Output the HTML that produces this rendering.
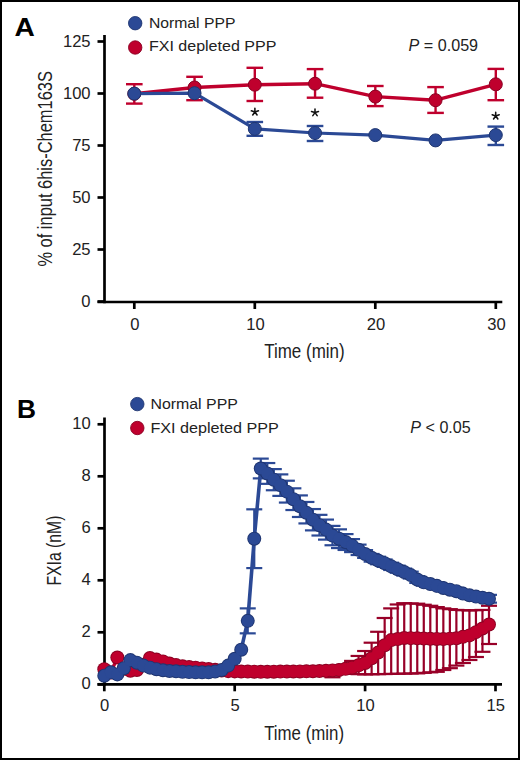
<!DOCTYPE html>
<html><head><meta charset="utf-8"><title>Figure</title>
<style>
html,body{margin:0;padding:0;background:#fff;}
body{width:520px;height:760px;overflow:hidden;font-family:"Liberation Sans", sans-serif;}
svg{display:block;}
</style></head>
<body>
<svg width="520" height="760" viewBox="0 0 520 760">
<rect x="0" y="0" width="520" height="760" fill="#fff"/>
<rect x="1" y="1" width="518" height="758" fill="none" stroke="#000" stroke-width="2"/>
<line x1="104.5" y1="35" x2="104.5" y2="303.35" stroke="#000" stroke-width="2.7"/>
<line x1="97.5" y1="302" x2="502.3" y2="302" stroke="#000" stroke-width="2.7"/>
<line x1="97.5" y1="301.5" x2="104.5" y2="301.5" stroke="#000" stroke-width="2.7"/>
<line x1="97.5" y1="249.5" x2="104.5" y2="249.5" stroke="#000" stroke-width="2.7"/>
<line x1="97.5" y1="197.5" x2="104.5" y2="197.5" stroke="#000" stroke-width="2.7"/>
<line x1="97.5" y1="145.5" x2="104.5" y2="145.5" stroke="#000" stroke-width="2.7"/>
<line x1="97.5" y1="93.5" x2="104.5" y2="93.5" stroke="#000" stroke-width="2.7"/>
<line x1="97.5" y1="41.5" x2="104.5" y2="41.5" stroke="#000" stroke-width="2.7"/>
<line x1="134.3" y1="302" x2="134.3" y2="309" stroke="#000" stroke-width="2.7"/>
<line x1="254.8" y1="302" x2="254.8" y2="309" stroke="#000" stroke-width="2.7"/>
<line x1="375.3" y1="302" x2="375.3" y2="309" stroke="#000" stroke-width="2.7"/>
<line x1="495.8" y1="302" x2="495.8" y2="309" stroke="#000" stroke-width="2.7"/>
<g>
<line x1="134.3" y1="103.6" x2="134.3" y2="84.2" stroke="#bf002d" stroke-width="2.4"/>
<line x1="126" y1="103.6" x2="142.6" y2="103.6" stroke="#bf002d" stroke-width="2.4"/>
<line x1="126" y1="84.2" x2="142.6" y2="84.2" stroke="#bf002d" stroke-width="2.4"/>
<line x1="194.55" y1="100.2" x2="194.55" y2="76.8" stroke="#bf002d" stroke-width="2.4"/>
<line x1="186.25" y1="100.2" x2="202.85" y2="100.2" stroke="#bf002d" stroke-width="2.4"/>
<line x1="186.25" y1="76.8" x2="202.85" y2="76.8" stroke="#bf002d" stroke-width="2.4"/>
<line x1="254.8" y1="101" x2="254.8" y2="67.8" stroke="#bf002d" stroke-width="2.4"/>
<line x1="246.5" y1="101" x2="263.1" y2="101" stroke="#bf002d" stroke-width="2.4"/>
<line x1="246.5" y1="67.8" x2="263.1" y2="67.8" stroke="#bf002d" stroke-width="2.4"/>
<line x1="315.05" y1="97.7" x2="315.05" y2="69.1" stroke="#bf002d" stroke-width="2.4"/>
<line x1="306.75" y1="97.7" x2="323.35" y2="97.7" stroke="#bf002d" stroke-width="2.4"/>
<line x1="306.75" y1="69.1" x2="323.35" y2="69.1" stroke="#bf002d" stroke-width="2.4"/>
<line x1="375.3" y1="106.1" x2="375.3" y2="86" stroke="#bf002d" stroke-width="2.4"/>
<line x1="367" y1="106.1" x2="383.6" y2="106.1" stroke="#bf002d" stroke-width="2.4"/>
<line x1="367" y1="86" x2="383.6" y2="86" stroke="#bf002d" stroke-width="2.4"/>
<line x1="435.55" y1="112.9" x2="435.55" y2="87.1" stroke="#bf002d" stroke-width="2.4"/>
<line x1="427.25" y1="112.9" x2="443.85" y2="112.9" stroke="#bf002d" stroke-width="2.4"/>
<line x1="427.25" y1="87.1" x2="443.85" y2="87.1" stroke="#bf002d" stroke-width="2.4"/>
<line x1="495.8" y1="100.2" x2="495.8" y2="68.9" stroke="#bf002d" stroke-width="2.4"/>
<line x1="487.5" y1="100.2" x2="504.1" y2="100.2" stroke="#bf002d" stroke-width="2.4"/>
<line x1="487.5" y1="68.9" x2="504.1" y2="68.9" stroke="#bf002d" stroke-width="2.4"/>
<polyline points="134.3,93.8 194.55,87.5 254.8,84.7 315.05,83.7 375.3,96.6 435.55,100.2 495.8,84.3" fill="none" stroke="#bf002d" stroke-width="3.4" stroke-linejoin="round"/>
<circle cx="134.3" cy="93.8" r="6.5" fill="#bf002d" stroke="#8a0022" stroke-width="1"/>
<circle cx="194.55" cy="87.5" r="6.5" fill="#bf002d" stroke="#8a0022" stroke-width="1"/>
<circle cx="254.8" cy="84.7" r="6.5" fill="#bf002d" stroke="#8a0022" stroke-width="1"/>
<circle cx="315.05" cy="83.7" r="6.5" fill="#bf002d" stroke="#8a0022" stroke-width="1"/>
<circle cx="375.3" cy="96.6" r="6.5" fill="#bf002d" stroke="#8a0022" stroke-width="1"/>
<circle cx="435.55" cy="100.2" r="6.5" fill="#bf002d" stroke="#8a0022" stroke-width="1"/>
<circle cx="495.8" cy="84.3" r="6.5" fill="#bf002d" stroke="#8a0022" stroke-width="1"/>
<line x1="254.8" y1="135.8" x2="254.8" y2="122" stroke="#2b4995" stroke-width="2.4"/>
<line x1="246.5" y1="135.8" x2="263.1" y2="135.8" stroke="#2b4995" stroke-width="2.4"/>
<line x1="246.5" y1="122" x2="263.1" y2="122" stroke="#2b4995" stroke-width="2.4"/>
<line x1="315.05" y1="141" x2="315.05" y2="126" stroke="#2b4995" stroke-width="2.4"/>
<line x1="306.75" y1="141" x2="323.35" y2="141" stroke="#2b4995" stroke-width="2.4"/>
<line x1="306.75" y1="126" x2="323.35" y2="126" stroke="#2b4995" stroke-width="2.4"/>
<line x1="495.8" y1="145" x2="495.8" y2="126.6" stroke="#2b4995" stroke-width="2.4"/>
<line x1="487.5" y1="145" x2="504.1" y2="145" stroke="#2b4995" stroke-width="2.4"/>
<line x1="487.5" y1="126.6" x2="504.1" y2="126.6" stroke="#2b4995" stroke-width="2.4"/>
<polyline points="134.3,93.6 194.55,93.2 254.8,128.9 315.05,133 375.3,135.1 435.55,140.4 495.8,135.1" fill="none" stroke="#2b4995" stroke-width="3.2" stroke-linejoin="round"/>
<circle cx="134.3" cy="93.6" r="6.5" fill="#2b4995" stroke="#1f3570" stroke-width="1"/>
<circle cx="194.55" cy="93.2" r="6.5" fill="#2b4995" stroke="#1f3570" stroke-width="1"/>
<circle cx="254.8" cy="128.9" r="6.5" fill="#2b4995" stroke="#1f3570" stroke-width="1"/>
<circle cx="315.05" cy="133" r="6.5" fill="#2b4995" stroke="#1f3570" stroke-width="1"/>
<circle cx="375.3" cy="135.1" r="6.5" fill="#2b4995" stroke="#1f3570" stroke-width="1"/>
<circle cx="435.55" cy="140.4" r="6.5" fill="#2b4995" stroke="#1f3570" stroke-width="1"/>
<circle cx="495.8" cy="135.1" r="6.5" fill="#2b4995" stroke="#1f3570" stroke-width="1"/>
</g>
<path d="M254.9 112L254.9 108.3M254.9 112L258.42 110.86M254.9 112L257.07 114.99M254.9 112L252.73 114.99M254.9 112L251.38 110.86" stroke="#111" stroke-width="1.55" stroke-linecap="round" fill="none"/>
<path d="M315 112.6L315 108.9M315 112.6L318.52 111.46M315 112.6L317.17 115.59M315 112.6L312.83 115.59M315 112.6L311.48 111.46" stroke="#111" stroke-width="1.55" stroke-linecap="round" fill="none"/>
<path d="M495.7 116L495.7 112.3M495.7 116L499.22 114.86M495.7 116L497.87 118.99M495.7 116L493.53 118.99M495.7 116L492.18 114.86" stroke="#111" stroke-width="1.55" stroke-linecap="round" fill="none"/>
<line x1="104.5" y1="417.5" x2="104.5" y2="685.65" stroke="#000" stroke-width="2.7"/>
<line x1="97.5" y1="684.3" x2="502" y2="684.3" stroke="#000" stroke-width="2.7"/>
<line x1="97.5" y1="684.3" x2="104.5" y2="684.3" stroke="#000" stroke-width="2.7"/>
<line x1="97.5" y1="632.3" x2="104.5" y2="632.3" stroke="#000" stroke-width="2.7"/>
<line x1="97.5" y1="580.3" x2="104.5" y2="580.3" stroke="#000" stroke-width="2.7"/>
<line x1="97.5" y1="528.3" x2="104.5" y2="528.3" stroke="#000" stroke-width="2.7"/>
<line x1="97.5" y1="476.3" x2="104.5" y2="476.3" stroke="#000" stroke-width="2.7"/>
<line x1="97.5" y1="424.3" x2="104.5" y2="424.3" stroke="#000" stroke-width="2.7"/>
<line x1="104.3" y1="684.3" x2="104.3" y2="691.3" stroke="#000" stroke-width="2.7"/>
<line x1="234.7" y1="684.3" x2="234.7" y2="691.3" stroke="#000" stroke-width="2.7"/>
<line x1="365.1" y1="684.3" x2="365.1" y2="691.3" stroke="#000" stroke-width="2.7"/>
<line x1="495.5" y1="684.3" x2="495.5" y2="691.3" stroke="#000" stroke-width="2.7"/>
<g>
<line x1="332.5" y1="674.94" x2="332.5" y2="677.28" stroke="#980028" stroke-width="2.2"/>
<line x1="324.5" y1="674.94" x2="340.5" y2="674.94" stroke="#980028" stroke-width="2.2"/>
<line x1="324.5" y1="677.28" x2="340.5" y2="677.28" stroke="#980028" stroke-width="2.2"/>
<line x1="339.02" y1="668.18" x2="339.02" y2="672.86" stroke="#980028" stroke-width="2.2"/>
<line x1="331.02" y1="668.18" x2="347.02" y2="668.18" stroke="#980028" stroke-width="2.2"/>
<line x1="331.02" y1="672.86" x2="347.02" y2="672.86" stroke="#980028" stroke-width="2.2"/>
<line x1="345.54" y1="664.54" x2="345.54" y2="673.38" stroke="#980028" stroke-width="2.2"/>
<line x1="337.54" y1="664.54" x2="353.54" y2="664.54" stroke="#980028" stroke-width="2.2"/>
<line x1="337.54" y1="673.38" x2="353.54" y2="673.38" stroke="#980028" stroke-width="2.2"/>
<line x1="352.06" y1="660.9" x2="352.06" y2="673.9" stroke="#980028" stroke-width="2.2"/>
<line x1="344.06" y1="660.9" x2="360.06" y2="660.9" stroke="#980028" stroke-width="2.2"/>
<line x1="344.06" y1="673.9" x2="360.06" y2="673.9" stroke="#980028" stroke-width="2.2"/>
<line x1="358.58" y1="655.96" x2="358.58" y2="674.16" stroke="#980028" stroke-width="2.2"/>
<line x1="350.58" y1="655.96" x2="366.58" y2="655.96" stroke="#980028" stroke-width="2.2"/>
<line x1="350.58" y1="674.16" x2="366.58" y2="674.16" stroke="#980028" stroke-width="2.2"/>
<line x1="365.1" y1="651.02" x2="365.1" y2="674.42" stroke="#980028" stroke-width="2.2"/>
<line x1="357.1" y1="651.02" x2="373.1" y2="651.02" stroke="#980028" stroke-width="2.2"/>
<line x1="357.1" y1="674.42" x2="373.1" y2="674.42" stroke="#980028" stroke-width="2.2"/>
<line x1="371.62" y1="642.7" x2="371.62" y2="674.29" stroke="#980028" stroke-width="2.2"/>
<line x1="363.62" y1="642.7" x2="379.62" y2="642.7" stroke="#980028" stroke-width="2.2"/>
<line x1="363.62" y1="674.29" x2="379.62" y2="674.29" stroke="#980028" stroke-width="2.2"/>
<line x1="378.14" y1="631.78" x2="378.14" y2="674.16" stroke="#980028" stroke-width="2.2"/>
<line x1="370.14" y1="631.78" x2="386.14" y2="631.78" stroke="#980028" stroke-width="2.2"/>
<line x1="370.14" y1="674.16" x2="386.14" y2="674.16" stroke="#980028" stroke-width="2.2"/>
<line x1="384.66" y1="618" x2="384.66" y2="674.03" stroke="#980028" stroke-width="2.2"/>
<line x1="376.66" y1="618" x2="392.66" y2="618" stroke="#980028" stroke-width="2.2"/>
<line x1="376.66" y1="674.03" x2="392.66" y2="674.03" stroke="#980028" stroke-width="2.2"/>
<line x1="391.18" y1="608.38" x2="391.18" y2="673.9" stroke="#980028" stroke-width="2.2"/>
<line x1="383.18" y1="608.38" x2="399.18" y2="608.38" stroke="#980028" stroke-width="2.2"/>
<line x1="383.18" y1="673.9" x2="399.18" y2="673.9" stroke="#980028" stroke-width="2.2"/>
<line x1="397.7" y1="604.48" x2="397.7" y2="673.77" stroke="#980028" stroke-width="2.2"/>
<line x1="389.7" y1="604.48" x2="405.7" y2="604.48" stroke="#980028" stroke-width="2.2"/>
<line x1="389.7" y1="673.77" x2="405.7" y2="673.77" stroke="#980028" stroke-width="2.2"/>
<line x1="404.22" y1="603.18" x2="404.22" y2="673.64" stroke="#980028" stroke-width="2.2"/>
<line x1="396.22" y1="603.18" x2="412.22" y2="603.18" stroke="#980028" stroke-width="2.2"/>
<line x1="396.22" y1="673.64" x2="412.22" y2="673.64" stroke="#980028" stroke-width="2.2"/>
<line x1="410.74" y1="603.44" x2="410.74" y2="673.51" stroke="#980028" stroke-width="2.2"/>
<line x1="402.74" y1="603.44" x2="418.74" y2="603.44" stroke="#980028" stroke-width="2.2"/>
<line x1="402.74" y1="673.51" x2="418.74" y2="673.51" stroke="#980028" stroke-width="2.2"/>
<line x1="417.26" y1="603.7" x2="417.26" y2="673.38" stroke="#980028" stroke-width="2.2"/>
<line x1="409.26" y1="603.7" x2="425.26" y2="603.7" stroke="#980028" stroke-width="2.2"/>
<line x1="409.26" y1="673.38" x2="425.26" y2="673.38" stroke="#980028" stroke-width="2.2"/>
<line x1="423.78" y1="604.74" x2="423.78" y2="672.86" stroke="#980028" stroke-width="2.2"/>
<line x1="415.78" y1="604.74" x2="431.78" y2="604.74" stroke="#980028" stroke-width="2.2"/>
<line x1="415.78" y1="672.86" x2="431.78" y2="672.86" stroke="#980028" stroke-width="2.2"/>
<line x1="430.3" y1="605.78" x2="430.3" y2="672.34" stroke="#980028" stroke-width="2.2"/>
<line x1="422.3" y1="605.78" x2="438.3" y2="605.78" stroke="#980028" stroke-width="2.2"/>
<line x1="422.3" y1="672.34" x2="438.3" y2="672.34" stroke="#980028" stroke-width="2.2"/>
<line x1="436.82" y1="607.08" x2="436.82" y2="671.82" stroke="#980028" stroke-width="2.2"/>
<line x1="428.82" y1="607.08" x2="444.82" y2="607.08" stroke="#980028" stroke-width="2.2"/>
<line x1="428.82" y1="671.82" x2="444.82" y2="671.82" stroke="#980028" stroke-width="2.2"/>
<line x1="443.34" y1="608.38" x2="443.34" y2="670" stroke="#980028" stroke-width="2.2"/>
<line x1="435.34" y1="608.38" x2="451.34" y2="608.38" stroke="#980028" stroke-width="2.2"/>
<line x1="435.34" y1="670" x2="451.34" y2="670" stroke="#980028" stroke-width="2.2"/>
<line x1="449.86" y1="609.16" x2="449.86" y2="668.18" stroke="#980028" stroke-width="2.2"/>
<line x1="441.86" y1="609.16" x2="457.86" y2="609.16" stroke="#980028" stroke-width="2.2"/>
<line x1="441.86" y1="668.18" x2="457.86" y2="668.18" stroke="#980028" stroke-width="2.2"/>
<line x1="456.38" y1="609.94" x2="456.38" y2="665.58" stroke="#980028" stroke-width="2.2"/>
<line x1="448.38" y1="609.94" x2="464.38" y2="609.94" stroke="#980028" stroke-width="2.2"/>
<line x1="448.38" y1="665.58" x2="464.38" y2="665.58" stroke="#980028" stroke-width="2.2"/>
<line x1="462.9" y1="610.2" x2="462.9" y2="662.98" stroke="#980028" stroke-width="2.2"/>
<line x1="454.9" y1="610.2" x2="470.9" y2="610.2" stroke="#980028" stroke-width="2.2"/>
<line x1="454.9" y1="662.98" x2="470.9" y2="662.98" stroke="#980028" stroke-width="2.2"/>
<line x1="469.42" y1="610.46" x2="469.42" y2="659.99" stroke="#980028" stroke-width="2.2"/>
<line x1="461.42" y1="610.46" x2="477.42" y2="610.46" stroke="#980028" stroke-width="2.2"/>
<line x1="461.42" y1="659.99" x2="477.42" y2="659.99" stroke="#980028" stroke-width="2.2"/>
<line x1="475.94" y1="610.2" x2="475.94" y2="657" stroke="#980028" stroke-width="2.2"/>
<line x1="467.94" y1="610.2" x2="483.94" y2="610.2" stroke="#980028" stroke-width="2.2"/>
<line x1="467.94" y1="657" x2="483.94" y2="657" stroke="#980028" stroke-width="2.2"/>
<line x1="482.46" y1="609.94" x2="482.46" y2="651.8" stroke="#980028" stroke-width="2.2"/>
<line x1="474.46" y1="609.94" x2="490.46" y2="609.94" stroke="#980028" stroke-width="2.2"/>
<line x1="474.46" y1="651.8" x2="490.46" y2="651.8" stroke="#980028" stroke-width="2.2"/>
<line x1="488.98" y1="605.78" x2="488.98" y2="644" stroke="#980028" stroke-width="2.2"/>
<line x1="480.98" y1="605.78" x2="496.98" y2="605.78" stroke="#980028" stroke-width="2.2"/>
<line x1="480.98" y1="644" x2="496.98" y2="644" stroke="#980028" stroke-width="2.2"/>
<polyline points="104.3,669.22 110.82,672.6 117.34,657.52 123.86,668.7 130.38,670.78 136.9,670 143.42,664.8 149.94,658.04 156.46,659.6 162.98,661.42 169.5,663.5 176.02,665.12 182.54,666.37 189.06,667.05 195.58,667.72 202.1,668.4 208.62,669.09 215.14,669.78 221.66,670.47 228.18,671.16 234.7,671.39 241.22,671.5 247.74,671.6 254.26,671.71 260.78,671.82 267.3,671.75 273.82,671.69 280.34,671.62 286.86,671.56 293.38,671.5 299.9,671.43 306.42,671.37 312.94,671.3 319.46,671.04 325.98,670.78 332.5,670.39 339.02,670 345.54,668.83 352.06,667.66 358.58,665.32 365.1,662.98 371.62,658.3 378.14,652.58 384.66,645.3 391.18,640.1 397.7,639.06 404.22,638.02 410.74,638.15 417.26,638.28 423.78,638.54 430.3,638.8 436.82,638.93 443.34,639.06 449.86,638.67 456.38,638.28 462.9,636.85 469.42,635.42 475.94,632.17 482.46,628.5 488.98,624.5" fill="none" stroke="#bf002d" stroke-width="3.4" stroke-linejoin="round"/>
<circle cx="104.3" cy="669.22" r="7.0" fill="#8a0022"/>
<circle cx="110.82" cy="672.6" r="7.0" fill="#8a0022"/>
<circle cx="117.34" cy="657.52" r="7.0" fill="#8a0022"/>
<circle cx="123.86" cy="668.7" r="7.0" fill="#8a0022"/>
<circle cx="130.38" cy="670.78" r="7.0" fill="#8a0022"/>
<circle cx="136.9" cy="670" r="7.0" fill="#8a0022"/>
<circle cx="143.42" cy="664.8" r="7.0" fill="#8a0022"/>
<circle cx="149.94" cy="658.04" r="7.0" fill="#8a0022"/>
<circle cx="156.46" cy="659.6" r="7.0" fill="#8a0022"/>
<circle cx="162.98" cy="661.42" r="7.0" fill="#8a0022"/>
<circle cx="169.5" cy="663.5" r="7.0" fill="#8a0022"/>
<circle cx="176.02" cy="665.12" r="7.0" fill="#8a0022"/>
<circle cx="182.54" cy="666.37" r="7.0" fill="#8a0022"/>
<circle cx="189.06" cy="667.05" r="7.0" fill="#8a0022"/>
<circle cx="195.58" cy="667.72" r="7.0" fill="#8a0022"/>
<circle cx="202.1" cy="668.4" r="7.0" fill="#8a0022"/>
<circle cx="208.62" cy="669.09" r="7.0" fill="#8a0022"/>
<circle cx="215.14" cy="669.78" r="7.0" fill="#8a0022"/>
<circle cx="221.66" cy="670.47" r="7.0" fill="#8a0022"/>
<circle cx="228.18" cy="671.16" r="7.0" fill="#8a0022"/>
<circle cx="234.7" cy="671.39" r="7.0" fill="#8a0022"/>
<circle cx="241.22" cy="671.5" r="7.0" fill="#8a0022"/>
<circle cx="247.74" cy="671.6" r="7.0" fill="#8a0022"/>
<circle cx="254.26" cy="671.71" r="7.0" fill="#8a0022"/>
<circle cx="260.78" cy="671.82" r="7.0" fill="#8a0022"/>
<circle cx="267.3" cy="671.75" r="7.0" fill="#8a0022"/>
<circle cx="273.82" cy="671.69" r="7.0" fill="#8a0022"/>
<circle cx="280.34" cy="671.62" r="7.0" fill="#8a0022"/>
<circle cx="286.86" cy="671.56" r="7.0" fill="#8a0022"/>
<circle cx="293.38" cy="671.5" r="7.0" fill="#8a0022"/>
<circle cx="299.9" cy="671.43" r="7.0" fill="#8a0022"/>
<circle cx="306.42" cy="671.37" r="7.0" fill="#8a0022"/>
<circle cx="312.94" cy="671.3" r="7.0" fill="#8a0022"/>
<circle cx="319.46" cy="671.04" r="7.0" fill="#8a0022"/>
<circle cx="325.98" cy="670.78" r="7.0" fill="#8a0022"/>
<circle cx="332.5" cy="670.39" r="7.0" fill="#8a0022"/>
<circle cx="339.02" cy="670" r="7.0" fill="#8a0022"/>
<circle cx="345.54" cy="668.83" r="7.0" fill="#8a0022"/>
<circle cx="352.06" cy="667.66" r="7.0" fill="#8a0022"/>
<circle cx="358.58" cy="665.32" r="7.0" fill="#8a0022"/>
<circle cx="365.1" cy="662.98" r="7.0" fill="#8a0022"/>
<circle cx="371.62" cy="658.3" r="7.0" fill="#8a0022"/>
<circle cx="378.14" cy="652.58" r="7.0" fill="#8a0022"/>
<circle cx="384.66" cy="645.3" r="7.0" fill="#8a0022"/>
<circle cx="391.18" cy="640.1" r="7.0" fill="#8a0022"/>
<circle cx="397.7" cy="639.06" r="7.0" fill="#8a0022"/>
<circle cx="404.22" cy="638.02" r="7.0" fill="#8a0022"/>
<circle cx="410.74" cy="638.15" r="7.0" fill="#8a0022"/>
<circle cx="417.26" cy="638.28" r="7.0" fill="#8a0022"/>
<circle cx="423.78" cy="638.54" r="7.0" fill="#8a0022"/>
<circle cx="430.3" cy="638.8" r="7.0" fill="#8a0022"/>
<circle cx="436.82" cy="638.93" r="7.0" fill="#8a0022"/>
<circle cx="443.34" cy="639.06" r="7.0" fill="#8a0022"/>
<circle cx="449.86" cy="638.67" r="7.0" fill="#8a0022"/>
<circle cx="456.38" cy="638.28" r="7.0" fill="#8a0022"/>
<circle cx="462.9" cy="636.85" r="7.0" fill="#8a0022"/>
<circle cx="469.42" cy="635.42" r="7.0" fill="#8a0022"/>
<circle cx="475.94" cy="632.17" r="7.0" fill="#8a0022"/>
<circle cx="482.46" cy="628.5" r="7.0" fill="#8a0022"/>
<circle cx="488.98" cy="624.5" r="7.0" fill="#8a0022"/>
<circle cx="104.3" cy="669.22" r="6.1" fill="#bf002d"/>
<circle cx="110.82" cy="672.6" r="6.1" fill="#bf002d"/>
<circle cx="117.34" cy="657.52" r="6.1" fill="#bf002d"/>
<circle cx="123.86" cy="668.7" r="6.1" fill="#bf002d"/>
<circle cx="130.38" cy="670.78" r="6.1" fill="#bf002d"/>
<circle cx="136.9" cy="670" r="6.1" fill="#bf002d"/>
<circle cx="143.42" cy="664.8" r="6.1" fill="#bf002d"/>
<circle cx="149.94" cy="658.04" r="6.1" fill="#bf002d"/>
<circle cx="156.46" cy="659.6" r="6.1" fill="#bf002d"/>
<circle cx="162.98" cy="661.42" r="6.1" fill="#bf002d"/>
<circle cx="169.5" cy="663.5" r="6.1" fill="#bf002d"/>
<circle cx="176.02" cy="665.12" r="6.1" fill="#bf002d"/>
<circle cx="182.54" cy="666.37" r="6.1" fill="#bf002d"/>
<circle cx="189.06" cy="667.05" r="6.1" fill="#bf002d"/>
<circle cx="195.58" cy="667.72" r="6.1" fill="#bf002d"/>
<circle cx="202.1" cy="668.4" r="6.1" fill="#bf002d"/>
<circle cx="208.62" cy="669.09" r="6.1" fill="#bf002d"/>
<circle cx="215.14" cy="669.78" r="6.1" fill="#bf002d"/>
<circle cx="221.66" cy="670.47" r="6.1" fill="#bf002d"/>
<circle cx="228.18" cy="671.16" r="6.1" fill="#bf002d"/>
<circle cx="234.7" cy="671.39" r="6.1" fill="#bf002d"/>
<circle cx="241.22" cy="671.5" r="6.1" fill="#bf002d"/>
<circle cx="247.74" cy="671.6" r="6.1" fill="#bf002d"/>
<circle cx="254.26" cy="671.71" r="6.1" fill="#bf002d"/>
<circle cx="260.78" cy="671.82" r="6.1" fill="#bf002d"/>
<circle cx="267.3" cy="671.75" r="6.1" fill="#bf002d"/>
<circle cx="273.82" cy="671.69" r="6.1" fill="#bf002d"/>
<circle cx="280.34" cy="671.62" r="6.1" fill="#bf002d"/>
<circle cx="286.86" cy="671.56" r="6.1" fill="#bf002d"/>
<circle cx="293.38" cy="671.5" r="6.1" fill="#bf002d"/>
<circle cx="299.9" cy="671.43" r="6.1" fill="#bf002d"/>
<circle cx="306.42" cy="671.37" r="6.1" fill="#bf002d"/>
<circle cx="312.94" cy="671.3" r="6.1" fill="#bf002d"/>
<circle cx="319.46" cy="671.04" r="6.1" fill="#bf002d"/>
<circle cx="325.98" cy="670.78" r="6.1" fill="#bf002d"/>
<circle cx="332.5" cy="670.39" r="6.1" fill="#bf002d"/>
<circle cx="339.02" cy="670" r="6.1" fill="#bf002d"/>
<circle cx="345.54" cy="668.83" r="6.1" fill="#bf002d"/>
<circle cx="352.06" cy="667.66" r="6.1" fill="#bf002d"/>
<circle cx="358.58" cy="665.32" r="6.1" fill="#bf002d"/>
<circle cx="365.1" cy="662.98" r="6.1" fill="#bf002d"/>
<circle cx="371.62" cy="658.3" r="6.1" fill="#bf002d"/>
<circle cx="378.14" cy="652.58" r="6.1" fill="#bf002d"/>
<circle cx="384.66" cy="645.3" r="6.1" fill="#bf002d"/>
<circle cx="391.18" cy="640.1" r="6.1" fill="#bf002d"/>
<circle cx="397.7" cy="639.06" r="6.1" fill="#bf002d"/>
<circle cx="404.22" cy="638.02" r="6.1" fill="#bf002d"/>
<circle cx="410.74" cy="638.15" r="6.1" fill="#bf002d"/>
<circle cx="417.26" cy="638.28" r="6.1" fill="#bf002d"/>
<circle cx="423.78" cy="638.54" r="6.1" fill="#bf002d"/>
<circle cx="430.3" cy="638.8" r="6.1" fill="#bf002d"/>
<circle cx="436.82" cy="638.93" r="6.1" fill="#bf002d"/>
<circle cx="443.34" cy="639.06" r="6.1" fill="#bf002d"/>
<circle cx="449.86" cy="638.67" r="6.1" fill="#bf002d"/>
<circle cx="456.38" cy="638.28" r="6.1" fill="#bf002d"/>
<circle cx="462.9" cy="636.85" r="6.1" fill="#bf002d"/>
<circle cx="469.42" cy="635.42" r="6.1" fill="#bf002d"/>
<circle cx="475.94" cy="632.17" r="6.1" fill="#bf002d"/>
<circle cx="482.46" cy="628.5" r="6.1" fill="#bf002d"/>
<circle cx="488.98" cy="624.5" r="6.1" fill="#bf002d"/>
<line x1="247.74" y1="608.38" x2="247.74" y2="633.34" stroke="#2b4995" stroke-width="2.2"/>
<line x1="239.74" y1="608.38" x2="255.74" y2="608.38" stroke="#2b4995" stroke-width="2.2"/>
<line x1="239.74" y1="633.34" x2="255.74" y2="633.34" stroke="#2b4995" stroke-width="2.2"/>
<line x1="254.26" y1="509.32" x2="254.26" y2="568.08" stroke="#2b4995" stroke-width="2.2"/>
<line x1="246.26" y1="509.32" x2="262.26" y2="509.32" stroke="#2b4995" stroke-width="2.2"/>
<line x1="246.26" y1="568.08" x2="262.26" y2="568.08" stroke="#2b4995" stroke-width="2.2"/>
<line x1="260.78" y1="458.62" x2="260.78" y2="478.38" stroke="#2b4995" stroke-width="2.2"/>
<line x1="252.78" y1="458.62" x2="268.78" y2="458.62" stroke="#2b4995" stroke-width="2.2"/>
<line x1="252.78" y1="478.38" x2="268.78" y2="478.38" stroke="#2b4995" stroke-width="2.2"/>
<line x1="267.3" y1="463.04" x2="267.3" y2="483.84" stroke="#2b4995" stroke-width="2.2"/>
<line x1="259.3" y1="463.04" x2="275.3" y2="463.04" stroke="#2b4995" stroke-width="2.2"/>
<line x1="259.3" y1="483.84" x2="275.3" y2="483.84" stroke="#2b4995" stroke-width="2.2"/>
<line x1="273.82" y1="469.11" x2="273.82" y2="490.25" stroke="#2b4995" stroke-width="2.2"/>
<line x1="265.82" y1="469.11" x2="281.82" y2="469.11" stroke="#2b4995" stroke-width="2.2"/>
<line x1="265.82" y1="490.25" x2="281.82" y2="490.25" stroke="#2b4995" stroke-width="2.2"/>
<line x1="280.34" y1="474.39" x2="280.34" y2="495.89" stroke="#2b4995" stroke-width="2.2"/>
<line x1="272.34" y1="474.39" x2="288.34" y2="474.39" stroke="#2b4995" stroke-width="2.2"/>
<line x1="272.34" y1="495.89" x2="288.34" y2="495.89" stroke="#2b4995" stroke-width="2.2"/>
<line x1="286.86" y1="480.72" x2="286.86" y2="502.56" stroke="#2b4995" stroke-width="2.2"/>
<line x1="278.86" y1="480.72" x2="294.86" y2="480.72" stroke="#2b4995" stroke-width="2.2"/>
<line x1="278.86" y1="502.56" x2="294.86" y2="502.56" stroke="#2b4995" stroke-width="2.2"/>
<line x1="293.38" y1="488.32" x2="293.38" y2="510.03" stroke="#2b4995" stroke-width="2.2"/>
<line x1="285.38" y1="488.32" x2="301.38" y2="488.32" stroke="#2b4995" stroke-width="2.2"/>
<line x1="285.38" y1="510.03" x2="301.38" y2="510.03" stroke="#2b4995" stroke-width="2.2"/>
<line x1="299.9" y1="495.41" x2="299.9" y2="516.99" stroke="#2b4995" stroke-width="2.2"/>
<line x1="291.9" y1="495.41" x2="307.9" y2="495.41" stroke="#2b4995" stroke-width="2.2"/>
<line x1="291.9" y1="516.99" x2="307.9" y2="516.99" stroke="#2b4995" stroke-width="2.2"/>
<line x1="306.42" y1="501.97" x2="306.42" y2="523.42" stroke="#2b4995" stroke-width="2.2"/>
<line x1="298.42" y1="501.97" x2="314.42" y2="501.97" stroke="#2b4995" stroke-width="2.2"/>
<line x1="298.42" y1="523.42" x2="314.42" y2="523.42" stroke="#2b4995" stroke-width="2.2"/>
<line x1="312.94" y1="509.06" x2="312.94" y2="530.38" stroke="#2b4995" stroke-width="2.2"/>
<line x1="304.94" y1="509.06" x2="320.94" y2="509.06" stroke="#2b4995" stroke-width="2.2"/>
<line x1="304.94" y1="530.38" x2="320.94" y2="530.38" stroke="#2b4995" stroke-width="2.2"/>
<line x1="319.46" y1="514.84" x2="319.46" y2="535.51" stroke="#2b4995" stroke-width="2.2"/>
<line x1="311.46" y1="514.84" x2="327.46" y2="514.84" stroke="#2b4995" stroke-width="2.2"/>
<line x1="311.46" y1="535.51" x2="327.46" y2="535.51" stroke="#2b4995" stroke-width="2.2"/>
<line x1="325.98" y1="519.59" x2="325.98" y2="539.61" stroke="#2b4995" stroke-width="2.2"/>
<line x1="317.98" y1="519.59" x2="333.98" y2="519.59" stroke="#2b4995" stroke-width="2.2"/>
<line x1="317.98" y1="539.61" x2="333.98" y2="539.61" stroke="#2b4995" stroke-width="2.2"/>
<line x1="332.5" y1="525.89" x2="332.5" y2="545.26" stroke="#2b4995" stroke-width="2.2"/>
<line x1="324.5" y1="525.89" x2="340.5" y2="525.89" stroke="#2b4995" stroke-width="2.2"/>
<line x1="324.5" y1="545.26" x2="340.5" y2="545.26" stroke="#2b4995" stroke-width="2.2"/>
<line x1="339.02" y1="529.34" x2="339.02" y2="548.06" stroke="#2b4995" stroke-width="2.2"/>
<line x1="331.02" y1="529.34" x2="347.02" y2="529.34" stroke="#2b4995" stroke-width="2.2"/>
<line x1="331.02" y1="548.06" x2="347.02" y2="548.06" stroke="#2b4995" stroke-width="2.2"/>
<line x1="345.54" y1="534.1" x2="345.54" y2="549.96" stroke="#2b4995" stroke-width="2.2"/>
<line x1="337.54" y1="534.1" x2="353.54" y2="534.1" stroke="#2b4995" stroke-width="2.2"/>
<line x1="337.54" y1="549.96" x2="353.54" y2="549.96" stroke="#2b4995" stroke-width="2.2"/>
<line x1="352.06" y1="539.1" x2="352.06" y2="552.1" stroke="#2b4995" stroke-width="2.2"/>
<line x1="344.06" y1="539.1" x2="360.06" y2="539.1" stroke="#2b4995" stroke-width="2.2"/>
<line x1="344.06" y1="552.1" x2="360.06" y2="552.1" stroke="#2b4995" stroke-width="2.2"/>
<line x1="358.58" y1="544.62" x2="358.58" y2="555.02" stroke="#2b4995" stroke-width="2.2"/>
<line x1="350.58" y1="544.62" x2="366.58" y2="544.62" stroke="#2b4995" stroke-width="2.2"/>
<line x1="350.58" y1="555.02" x2="366.58" y2="555.02" stroke="#2b4995" stroke-width="2.2"/>
<line x1="365.1" y1="550.09" x2="365.1" y2="557.89" stroke="#2b4995" stroke-width="2.2"/>
<line x1="357.1" y1="550.09" x2="373.1" y2="550.09" stroke="#2b4995" stroke-width="2.2"/>
<line x1="357.1" y1="557.89" x2="373.1" y2="557.89" stroke="#2b4995" stroke-width="2.2"/>
<line x1="371.62" y1="553.97" x2="371.62" y2="561.64" stroke="#2b4995" stroke-width="2.2"/>
<line x1="363.62" y1="553.97" x2="379.62" y2="553.97" stroke="#2b4995" stroke-width="2.2"/>
<line x1="363.62" y1="561.64" x2="379.62" y2="561.64" stroke="#2b4995" stroke-width="2.2"/>
<line x1="378.14" y1="556.73" x2="378.14" y2="564.27" stroke="#2b4995" stroke-width="2.2"/>
<line x1="370.14" y1="556.73" x2="386.14" y2="556.73" stroke="#2b4995" stroke-width="2.2"/>
<line x1="370.14" y1="564.27" x2="386.14" y2="564.27" stroke="#2b4995" stroke-width="2.2"/>
<line x1="384.66" y1="559.48" x2="384.66" y2="566.89" stroke="#2b4995" stroke-width="2.2"/>
<line x1="376.66" y1="559.48" x2="392.66" y2="559.48" stroke="#2b4995" stroke-width="2.2"/>
<line x1="376.66" y1="566.89" x2="392.66" y2="566.89" stroke="#2b4995" stroke-width="2.2"/>
<line x1="391.18" y1="562.7" x2="391.18" y2="569.98" stroke="#2b4995" stroke-width="2.2"/>
<line x1="383.18" y1="562.7" x2="399.18" y2="562.7" stroke="#2b4995" stroke-width="2.2"/>
<line x1="383.18" y1="569.98" x2="399.18" y2="569.98" stroke="#2b4995" stroke-width="2.2"/>
<line x1="397.7" y1="565.63" x2="397.7" y2="572.78" stroke="#2b4995" stroke-width="2.2"/>
<line x1="389.7" y1="565.63" x2="405.7" y2="565.63" stroke="#2b4995" stroke-width="2.2"/>
<line x1="389.7" y1="572.78" x2="405.7" y2="572.78" stroke="#2b4995" stroke-width="2.2"/>
<line x1="404.22" y1="568.55" x2="404.22" y2="575.57" stroke="#2b4995" stroke-width="2.2"/>
<line x1="396.22" y1="568.55" x2="412.22" y2="568.55" stroke="#2b4995" stroke-width="2.2"/>
<line x1="396.22" y1="575.57" x2="412.22" y2="575.57" stroke="#2b4995" stroke-width="2.2"/>
<line x1="410.74" y1="571.67" x2="410.74" y2="578.56" stroke="#2b4995" stroke-width="2.2"/>
<line x1="402.74" y1="571.67" x2="418.74" y2="571.67" stroke="#2b4995" stroke-width="2.2"/>
<line x1="402.74" y1="578.56" x2="418.74" y2="578.56" stroke="#2b4995" stroke-width="2.2"/>
<line x1="417.26" y1="576.18" x2="417.26" y2="582.94" stroke="#2b4995" stroke-width="2.2"/>
<line x1="409.26" y1="576.18" x2="425.26" y2="576.18" stroke="#2b4995" stroke-width="2.2"/>
<line x1="409.26" y1="582.94" x2="425.26" y2="582.94" stroke="#2b4995" stroke-width="2.2"/>
<line x1="423.78" y1="578.97" x2="423.78" y2="585.73" stroke="#2b4995" stroke-width="2.2"/>
<line x1="415.78" y1="578.97" x2="431.78" y2="578.97" stroke="#2b4995" stroke-width="2.2"/>
<line x1="415.78" y1="585.73" x2="431.78" y2="585.73" stroke="#2b4995" stroke-width="2.2"/>
<line x1="430.3" y1="580.65" x2="430.3" y2="587.41" stroke="#2b4995" stroke-width="2.2"/>
<line x1="422.3" y1="580.65" x2="438.3" y2="580.65" stroke="#2b4995" stroke-width="2.2"/>
<line x1="422.3" y1="587.41" x2="438.3" y2="587.41" stroke="#2b4995" stroke-width="2.2"/>
<line x1="436.82" y1="582.47" x2="436.82" y2="589.23" stroke="#2b4995" stroke-width="2.2"/>
<line x1="428.82" y1="582.47" x2="444.82" y2="582.47" stroke="#2b4995" stroke-width="2.2"/>
<line x1="428.82" y1="589.23" x2="444.82" y2="589.23" stroke="#2b4995" stroke-width="2.2"/>
<line x1="443.34" y1="584.63" x2="443.34" y2="591.39" stroke="#2b4995" stroke-width="2.2"/>
<line x1="435.34" y1="584.63" x2="451.34" y2="584.63" stroke="#2b4995" stroke-width="2.2"/>
<line x1="435.34" y1="591.39" x2="451.34" y2="591.39" stroke="#2b4995" stroke-width="2.2"/>
<line x1="449.86" y1="586.33" x2="449.86" y2="593.09" stroke="#2b4995" stroke-width="2.2"/>
<line x1="441.86" y1="586.33" x2="457.86" y2="586.33" stroke="#2b4995" stroke-width="2.2"/>
<line x1="441.86" y1="593.09" x2="457.86" y2="593.09" stroke="#2b4995" stroke-width="2.2"/>
<line x1="456.38" y1="587.84" x2="456.38" y2="594.6" stroke="#2b4995" stroke-width="2.2"/>
<line x1="448.38" y1="587.84" x2="464.38" y2="587.84" stroke="#2b4995" stroke-width="2.2"/>
<line x1="448.38" y1="594.6" x2="464.38" y2="594.6" stroke="#2b4995" stroke-width="2.2"/>
<line x1="462.9" y1="590.2" x2="462.9" y2="596.96" stroke="#2b4995" stroke-width="2.2"/>
<line x1="454.9" y1="590.2" x2="470.9" y2="590.2" stroke="#2b4995" stroke-width="2.2"/>
<line x1="454.9" y1="596.96" x2="470.9" y2="596.96" stroke="#2b4995" stroke-width="2.2"/>
<line x1="469.42" y1="591.87" x2="469.42" y2="598.63" stroke="#2b4995" stroke-width="2.2"/>
<line x1="461.42" y1="591.87" x2="477.42" y2="591.87" stroke="#2b4995" stroke-width="2.2"/>
<line x1="461.42" y1="598.63" x2="477.42" y2="598.63" stroke="#2b4995" stroke-width="2.2"/>
<line x1="475.94" y1="593.22" x2="475.94" y2="599.98" stroke="#2b4995" stroke-width="2.2"/>
<line x1="467.94" y1="593.22" x2="483.94" y2="593.22" stroke="#2b4995" stroke-width="2.2"/>
<line x1="467.94" y1="599.98" x2="483.94" y2="599.98" stroke="#2b4995" stroke-width="2.2"/>
<line x1="482.46" y1="594.42" x2="482.46" y2="601.18" stroke="#2b4995" stroke-width="2.2"/>
<line x1="474.46" y1="594.42" x2="490.46" y2="594.42" stroke="#2b4995" stroke-width="2.2"/>
<line x1="474.46" y1="601.18" x2="490.46" y2="601.18" stroke="#2b4995" stroke-width="2.2"/>
<line x1="488.98" y1="594.86" x2="488.98" y2="602.66" stroke="#2b4995" stroke-width="2.2"/>
<line x1="480.98" y1="594.86" x2="496.98" y2="594.86" stroke="#2b4995" stroke-width="2.2"/>
<line x1="480.98" y1="602.66" x2="496.98" y2="602.66" stroke="#2b4995" stroke-width="2.2"/>
<polyline points="104.3,675.72 110.82,672.34 117.34,674.42 123.86,668.18 130.38,660.12 136.9,662.72 143.42,665.58 149.94,667.66 156.46,669.22 162.98,670.26 169.5,671.04 176.02,671.3 182.54,671.82 189.06,672.08 195.58,672.34 202.1,672.34 208.62,672.34 215.14,671.56 221.66,670 228.18,665.58 234.7,658.82 241.22,649.72 247.74,620.86 254.26,538.7 260.78,468.5 267.3,473.44 273.82,479.68 280.34,485.14 286.86,491.64 293.38,499.18 299.9,506.2 306.42,512.7 312.94,519.72 319.46,525.18 325.98,529.6 332.5,535.58 339.02,538.7 345.54,542.03 352.06,545.6 358.58,549.82 365.1,553.99 371.62,557.81 378.14,560.5 384.66,563.18 391.18,566.34 397.7,569.2 404.22,572.06 410.74,575.11 417.26,579.56 423.78,582.35 430.3,584.03 436.82,585.85 443.34,588.01 449.86,589.71 456.38,591.22 462.9,593.58 469.42,595.25 475.94,596.6 482.46,597.8 488.98,598.76" fill="none" stroke="#2b4995" stroke-width="3.6" stroke-linejoin="round"/>
<circle cx="104.3" cy="675.72" r="7.0" fill="#1f3570"/>
<circle cx="110.82" cy="672.34" r="7.0" fill="#1f3570"/>
<circle cx="117.34" cy="674.42" r="7.0" fill="#1f3570"/>
<circle cx="123.86" cy="668.18" r="7.0" fill="#1f3570"/>
<circle cx="130.38" cy="660.12" r="7.0" fill="#1f3570"/>
<circle cx="136.9" cy="662.72" r="7.0" fill="#1f3570"/>
<circle cx="143.42" cy="665.58" r="7.0" fill="#1f3570"/>
<circle cx="149.94" cy="667.66" r="7.0" fill="#1f3570"/>
<circle cx="156.46" cy="669.22" r="7.0" fill="#1f3570"/>
<circle cx="162.98" cy="670.26" r="7.0" fill="#1f3570"/>
<circle cx="169.5" cy="671.04" r="7.0" fill="#1f3570"/>
<circle cx="176.02" cy="671.3" r="7.0" fill="#1f3570"/>
<circle cx="182.54" cy="671.82" r="7.0" fill="#1f3570"/>
<circle cx="189.06" cy="672.08" r="7.0" fill="#1f3570"/>
<circle cx="195.58" cy="672.34" r="7.0" fill="#1f3570"/>
<circle cx="202.1" cy="672.34" r="7.0" fill="#1f3570"/>
<circle cx="208.62" cy="672.34" r="7.0" fill="#1f3570"/>
<circle cx="215.14" cy="671.56" r="7.0" fill="#1f3570"/>
<circle cx="221.66" cy="670" r="7.0" fill="#1f3570"/>
<circle cx="228.18" cy="665.58" r="7.0" fill="#1f3570"/>
<circle cx="234.7" cy="658.82" r="7.0" fill="#1f3570"/>
<circle cx="241.22" cy="649.72" r="7.0" fill="#1f3570"/>
<circle cx="247.74" cy="620.86" r="7.0" fill="#1f3570"/>
<circle cx="254.26" cy="538.7" r="7.0" fill="#1f3570"/>
<circle cx="260.78" cy="468.5" r="7.0" fill="#1f3570"/>
<circle cx="267.3" cy="473.44" r="7.0" fill="#1f3570"/>
<circle cx="273.82" cy="479.68" r="7.0" fill="#1f3570"/>
<circle cx="280.34" cy="485.14" r="7.0" fill="#1f3570"/>
<circle cx="286.86" cy="491.64" r="7.0" fill="#1f3570"/>
<circle cx="293.38" cy="499.18" r="7.0" fill="#1f3570"/>
<circle cx="299.9" cy="506.2" r="7.0" fill="#1f3570"/>
<circle cx="306.42" cy="512.7" r="7.0" fill="#1f3570"/>
<circle cx="312.94" cy="519.72" r="7.0" fill="#1f3570"/>
<circle cx="319.46" cy="525.18" r="7.0" fill="#1f3570"/>
<circle cx="325.98" cy="529.6" r="7.0" fill="#1f3570"/>
<circle cx="332.5" cy="535.58" r="7.0" fill="#1f3570"/>
<circle cx="339.02" cy="538.7" r="7.0" fill="#1f3570"/>
<circle cx="345.54" cy="542.03" r="7.0" fill="#1f3570"/>
<circle cx="352.06" cy="545.6" r="7.0" fill="#1f3570"/>
<circle cx="358.58" cy="549.82" r="7.0" fill="#1f3570"/>
<circle cx="365.1" cy="553.99" r="7.0" fill="#1f3570"/>
<circle cx="371.62" cy="557.81" r="7.0" fill="#1f3570"/>
<circle cx="378.14" cy="560.5" r="7.0" fill="#1f3570"/>
<circle cx="384.66" cy="563.18" r="7.0" fill="#1f3570"/>
<circle cx="391.18" cy="566.34" r="7.0" fill="#1f3570"/>
<circle cx="397.7" cy="569.2" r="7.0" fill="#1f3570"/>
<circle cx="404.22" cy="572.06" r="7.0" fill="#1f3570"/>
<circle cx="410.74" cy="575.11" r="7.0" fill="#1f3570"/>
<circle cx="417.26" cy="579.56" r="7.0" fill="#1f3570"/>
<circle cx="423.78" cy="582.35" r="7.0" fill="#1f3570"/>
<circle cx="430.3" cy="584.03" r="7.0" fill="#1f3570"/>
<circle cx="436.82" cy="585.85" r="7.0" fill="#1f3570"/>
<circle cx="443.34" cy="588.01" r="7.0" fill="#1f3570"/>
<circle cx="449.86" cy="589.71" r="7.0" fill="#1f3570"/>
<circle cx="456.38" cy="591.22" r="7.0" fill="#1f3570"/>
<circle cx="462.9" cy="593.58" r="7.0" fill="#1f3570"/>
<circle cx="469.42" cy="595.25" r="7.0" fill="#1f3570"/>
<circle cx="475.94" cy="596.6" r="7.0" fill="#1f3570"/>
<circle cx="482.46" cy="597.8" r="7.0" fill="#1f3570"/>
<circle cx="488.98" cy="598.76" r="7.0" fill="#1f3570"/>
<circle cx="104.3" cy="675.72" r="6.1" fill="#2b4995"/>
<circle cx="110.82" cy="672.34" r="6.1" fill="#2b4995"/>
<circle cx="117.34" cy="674.42" r="6.1" fill="#2b4995"/>
<circle cx="123.86" cy="668.18" r="6.1" fill="#2b4995"/>
<circle cx="130.38" cy="660.12" r="6.1" fill="#2b4995"/>
<circle cx="136.9" cy="662.72" r="6.1" fill="#2b4995"/>
<circle cx="143.42" cy="665.58" r="6.1" fill="#2b4995"/>
<circle cx="149.94" cy="667.66" r="6.1" fill="#2b4995"/>
<circle cx="156.46" cy="669.22" r="6.1" fill="#2b4995"/>
<circle cx="162.98" cy="670.26" r="6.1" fill="#2b4995"/>
<circle cx="169.5" cy="671.04" r="6.1" fill="#2b4995"/>
<circle cx="176.02" cy="671.3" r="6.1" fill="#2b4995"/>
<circle cx="182.54" cy="671.82" r="6.1" fill="#2b4995"/>
<circle cx="189.06" cy="672.08" r="6.1" fill="#2b4995"/>
<circle cx="195.58" cy="672.34" r="6.1" fill="#2b4995"/>
<circle cx="202.1" cy="672.34" r="6.1" fill="#2b4995"/>
<circle cx="208.62" cy="672.34" r="6.1" fill="#2b4995"/>
<circle cx="215.14" cy="671.56" r="6.1" fill="#2b4995"/>
<circle cx="221.66" cy="670" r="6.1" fill="#2b4995"/>
<circle cx="228.18" cy="665.58" r="6.1" fill="#2b4995"/>
<circle cx="234.7" cy="658.82" r="6.1" fill="#2b4995"/>
<circle cx="241.22" cy="649.72" r="6.1" fill="#2b4995"/>
<circle cx="247.74" cy="620.86" r="6.1" fill="#2b4995"/>
<circle cx="254.26" cy="538.7" r="6.1" fill="#2b4995"/>
<circle cx="260.78" cy="468.5" r="6.1" fill="#2b4995"/>
<circle cx="267.3" cy="473.44" r="6.1" fill="#2b4995"/>
<circle cx="273.82" cy="479.68" r="6.1" fill="#2b4995"/>
<circle cx="280.34" cy="485.14" r="6.1" fill="#2b4995"/>
<circle cx="286.86" cy="491.64" r="6.1" fill="#2b4995"/>
<circle cx="293.38" cy="499.18" r="6.1" fill="#2b4995"/>
<circle cx="299.9" cy="506.2" r="6.1" fill="#2b4995"/>
<circle cx="306.42" cy="512.7" r="6.1" fill="#2b4995"/>
<circle cx="312.94" cy="519.72" r="6.1" fill="#2b4995"/>
<circle cx="319.46" cy="525.18" r="6.1" fill="#2b4995"/>
<circle cx="325.98" cy="529.6" r="6.1" fill="#2b4995"/>
<circle cx="332.5" cy="535.58" r="6.1" fill="#2b4995"/>
<circle cx="339.02" cy="538.7" r="6.1" fill="#2b4995"/>
<circle cx="345.54" cy="542.03" r="6.1" fill="#2b4995"/>
<circle cx="352.06" cy="545.6" r="6.1" fill="#2b4995"/>
<circle cx="358.58" cy="549.82" r="6.1" fill="#2b4995"/>
<circle cx="365.1" cy="553.99" r="6.1" fill="#2b4995"/>
<circle cx="371.62" cy="557.81" r="6.1" fill="#2b4995"/>
<circle cx="378.14" cy="560.5" r="6.1" fill="#2b4995"/>
<circle cx="384.66" cy="563.18" r="6.1" fill="#2b4995"/>
<circle cx="391.18" cy="566.34" r="6.1" fill="#2b4995"/>
<circle cx="397.7" cy="569.2" r="6.1" fill="#2b4995"/>
<circle cx="404.22" cy="572.06" r="6.1" fill="#2b4995"/>
<circle cx="410.74" cy="575.11" r="6.1" fill="#2b4995"/>
<circle cx="417.26" cy="579.56" r="6.1" fill="#2b4995"/>
<circle cx="423.78" cy="582.35" r="6.1" fill="#2b4995"/>
<circle cx="430.3" cy="584.03" r="6.1" fill="#2b4995"/>
<circle cx="436.82" cy="585.85" r="6.1" fill="#2b4995"/>
<circle cx="443.34" cy="588.01" r="6.1" fill="#2b4995"/>
<circle cx="449.86" cy="589.71" r="6.1" fill="#2b4995"/>
<circle cx="456.38" cy="591.22" r="6.1" fill="#2b4995"/>
<circle cx="462.9" cy="593.58" r="6.1" fill="#2b4995"/>
<circle cx="469.42" cy="595.25" r="6.1" fill="#2b4995"/>
<circle cx="475.94" cy="596.6" r="6.1" fill="#2b4995"/>
<circle cx="482.46" cy="597.8" r="6.1" fill="#2b4995"/>
<circle cx="488.98" cy="598.76" r="6.1" fill="#2b4995"/>
</g>
<text x="14.6" y="35.6" font-family='"Liberation Sans", sans-serif' font-size="25.3" font-weight="bold" font-style="normal" text-anchor="start" fill="#000" textLength="20.3" lengthAdjust="spacingAndGlyphs">A</text>
<text x="17" y="417.9" font-family='"Liberation Sans", sans-serif' font-size="25.8" font-weight="bold" font-style="normal" text-anchor="start" fill="#000" textLength="19" lengthAdjust="spacingAndGlyphs">B</text>
<text x="90.6" y="307.1" font-family='"Liberation Sans", sans-serif' font-size="16.6" font-weight="normal" font-style="normal" text-anchor="end" fill="#222">0</text>
<text x="90.6" y="255.1" font-family='"Liberation Sans", sans-serif' font-size="16.6" font-weight="normal" font-style="normal" text-anchor="end" fill="#222">25</text>
<text x="90.6" y="203.1" font-family='"Liberation Sans", sans-serif' font-size="16.6" font-weight="normal" font-style="normal" text-anchor="end" fill="#222">50</text>
<text x="90.6" y="151.1" font-family='"Liberation Sans", sans-serif' font-size="16.6" font-weight="normal" font-style="normal" text-anchor="end" fill="#222">75</text>
<text x="90.6" y="99.1" font-family='"Liberation Sans", sans-serif' font-size="16.6" font-weight="normal" font-style="normal" text-anchor="end" fill="#222">100</text>
<text x="90.6" y="47.1" font-family='"Liberation Sans", sans-serif' font-size="16.6" font-weight="normal" font-style="normal" text-anchor="end" fill="#222">125</text>
<text x="134.9" y="329.6" font-family='"Liberation Sans", sans-serif' font-size="16.6" font-weight="normal" font-style="normal" text-anchor="middle" fill="#222">0</text>
<text x="255.4" y="329.6" font-family='"Liberation Sans", sans-serif' font-size="16.6" font-weight="normal" font-style="normal" text-anchor="middle" fill="#222">10</text>
<text x="375.9" y="329.6" font-family='"Liberation Sans", sans-serif' font-size="16.6" font-weight="normal" font-style="normal" text-anchor="middle" fill="#222">20</text>
<text x="496.4" y="329.6" font-family='"Liberation Sans", sans-serif' font-size="16.6" font-weight="normal" font-style="normal" text-anchor="middle" fill="#222">30</text>
<text x="90.8" y="689.3" font-family='"Liberation Sans", sans-serif' font-size="16.6" font-weight="normal" font-style="normal" text-anchor="end" fill="#222">0</text>
<text x="90.8" y="637.3" font-family='"Liberation Sans", sans-serif' font-size="16.6" font-weight="normal" font-style="normal" text-anchor="end" fill="#222">2</text>
<text x="90.8" y="585.3" font-family='"Liberation Sans", sans-serif' font-size="16.6" font-weight="normal" font-style="normal" text-anchor="end" fill="#222">4</text>
<text x="90.8" y="533.3" font-family='"Liberation Sans", sans-serif' font-size="16.6" font-weight="normal" font-style="normal" text-anchor="end" fill="#222">6</text>
<text x="90.8" y="481.3" font-family='"Liberation Sans", sans-serif' font-size="16.6" font-weight="normal" font-style="normal" text-anchor="end" fill="#222">8</text>
<text x="90.8" y="429.3" font-family='"Liberation Sans", sans-serif' font-size="16.6" font-weight="normal" font-style="normal" text-anchor="end" fill="#222">10</text>
<text x="104.6" y="711.4" font-family='"Liberation Sans", sans-serif' font-size="16.6" font-weight="normal" font-style="normal" text-anchor="middle" fill="#222">0</text>
<text x="235" y="711.4" font-family='"Liberation Sans", sans-serif' font-size="16.6" font-weight="normal" font-style="normal" text-anchor="middle" fill="#222">5</text>
<text x="365.4" y="711.4" font-family='"Liberation Sans", sans-serif' font-size="16.6" font-weight="normal" font-style="normal" text-anchor="middle" fill="#222">10</text>
<text x="495.8" y="711.4" font-family='"Liberation Sans", sans-serif' font-size="16.6" font-weight="normal" font-style="normal" text-anchor="middle" fill="#222">15</text>
<text x="264.2" y="358.2" font-family='"Liberation Sans", sans-serif' font-size="20" font-weight="normal" font-style="normal" text-anchor="start" fill="#222" textLength="80.5" lengthAdjust="spacingAndGlyphs">Time (min)</text>
<text x="264.2" y="739.6" font-family='"Liberation Sans", sans-serif' font-size="20" font-weight="normal" font-style="normal" text-anchor="start" fill="#222" textLength="79.8" lengthAdjust="spacingAndGlyphs">Time (min)</text>
<g transform="translate(51.6,266.6) rotate(-90)"><text x="0" y="0" font-family='"Liberation Sans", sans-serif' font-size="20.8" font-weight="normal" font-style="normal" text-anchor="start" fill="#222" textLength="195.5" lengthAdjust="spacingAndGlyphs">% of input 6his-Chem163S</text></g>
<g transform="translate(60.5,585.6) rotate(-90)"><text x="0" y="0" font-family='"Liberation Sans", sans-serif' font-size="20.3" font-weight="normal" font-style="normal" text-anchor="start" fill="#222" textLength="70" lengthAdjust="spacingAndGlyphs">FXIa (nM)</text></g>
<circle cx="135.2" cy="23.2" r="6.7" fill="#2b4995" stroke="#1f3570" stroke-width="0.9"/>
<circle cx="135.2" cy="47.5" r="6.7" fill="#bf002d" stroke="#8a0022" stroke-width="0.9"/>
<text x="148.9" y="28.1" font-family='"Liberation Sans", sans-serif' font-size="15.4" font-weight="normal" font-style="normal" text-anchor="start" fill="#222" textLength="86.5" lengthAdjust="spacingAndGlyphs">Normal PPP</text>
<text x="148.9" y="51.2" font-family='"Liberation Sans", sans-serif' font-size="15.4" font-weight="normal" font-style="normal" text-anchor="start" fill="#222" textLength="127.5" lengthAdjust="spacingAndGlyphs">FXI depleted PPP</text>
<circle cx="137.3" cy="404.1" r="6.7" fill="#2b4995" stroke="#1f3570" stroke-width="0.9"/>
<circle cx="137.3" cy="428" r="6.7" fill="#bf002d" stroke="#8a0022" stroke-width="0.9"/>
<text x="150.4" y="408.8" font-family='"Liberation Sans", sans-serif' font-size="15.4" font-weight="normal" font-style="normal" text-anchor="start" fill="#222" textLength="87.5" lengthAdjust="spacingAndGlyphs">Normal PPP</text>
<text x="150.4" y="432.8" font-family='"Liberation Sans", sans-serif' font-size="15.4" font-weight="normal" font-style="normal" text-anchor="start" fill="#222" textLength="128.5" lengthAdjust="spacingAndGlyphs">FXI depleted PPP</text>
<text x="408.6" y="50.5" font-family='"Liberation Sans", sans-serif' font-size="16.2" fill="#222" textLength="69.5" lengthAdjust="spacingAndGlyphs"><tspan font-style="italic">P</tspan> = 0.059</text>
<text x="410.3" y="432.9" font-family='"Liberation Sans", sans-serif' font-size="16.2" fill="#222" textLength="60.5" lengthAdjust="spacingAndGlyphs"><tspan font-style="italic">P</tspan> &lt; 0.05</text>
</svg>
</body></html>
